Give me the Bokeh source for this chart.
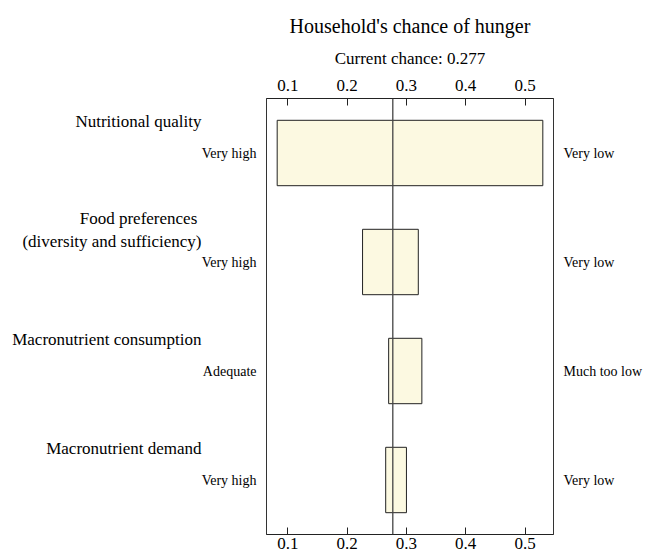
from bokeh.plotting import figure
from bokeh.models import (ColumnDataSource, Range1d, LinearAxis, FixedTicker,
                          Span, Title)
from bokeh.embed import file_html
from bokeh.resources import INLINE

# ---- data ----
factors = ["Nutritional quality",
           "Food preferences \n(diversity and sufficiency)",
           "Macronutrient consumption",
           "Macronutrient demand"]
low_values = [0.082, 0.226, 0.270, 0.265]
high_values = [0.530, 0.320, 0.326, 0.300]
left_levels = ["Very high", "Very high", "Adequate", "Very high"]
right_levels = ["Very low", "Very low", "Much too low", "Very low"]
current_chance = 0.277
tick_values = [0.1, 0.2, 0.3, 0.4, 0.5]
title_text = "Household's chance of hunger"
subtitle_text = "Current chance: %.3f" % current_chance

FONT = "Liberation Serif"
n = len(factors)
ypos = [n - i - 0.5 for i in range(n)]
BAR_H = 0.6
top_pos = [y + BAR_H / 2 - 0.01 for y in ypos]

x_start, x_end = 0.064, 0.548
p = figure(width=645, height=551, output_backend="svg", toolbar_location=None,
           x_range=Range1d(x_start, x_end), y_range=Range1d(0, n),
           x_axis_location=None, y_axis_location=None,
           min_border_left=266, min_border_right=91, min_border_top=98,
           min_border_bottom=0)
p.xgrid.visible = False
p.ygrid.visible = False
p.outline_line_color = "#333333"
p.outline_line_width = 1
p.background_fill_color = "white"
p.border_fill_color = "white"


def hidden_axis(ax):
    ax.axis_line_color = None
    ax.major_tick_line_color = None
    ax.minor_tick_line_color = None
    ax.major_tick_in = 0
    ax.major_tick_out = 0
    ax.minor_tick_in = 0
    ax.minor_tick_out = 0
    ax.major_label_text_font = FONT
    ax.major_label_text_color = "black"
    return ax


# ---- x axes (top with subtitle, bottom) ----
for loc, standoff in (("above", 8), ("below", 3)):
    ax = LinearAxis(ticker=FixedTicker(ticks=tick_values))
    ax.major_tick_in = 7
    ax.major_tick_out = 0
    ax.minor_tick_line_color = None
    ax.minor_tick_out = 0
    ax.major_label_standoff = standoff
    ax.major_label_text_font = FONT
    ax.major_label_text_font_size = "17px"
    ax.major_label_text_color = "black"
    ax.axis_line_color = "#222222"
    ax.major_tick_line_color = "#222222"
    if loc == "above":
        ax.axis_label = subtitle_text
        ax.axis_label_text_font = FONT
        ax.axis_label_text_font_size = "17px"
        ax.axis_label_text_font_style = "normal"
        ax.axis_label_text_color = "black"
        ax.axis_label_standoff = 9
    p.add_layout(ax, loc)

p.add_layout(Title(text=title_text, align="center", text_font=FONT,
                   text_font_size="20px", text_font_style="normal",
                   text_color="black", standoff=17), "above")

# ---- left level labels (nearest the frame) ----
lev = hidden_axis(LinearAxis(ticker=FixedTicker(ticks=ypos)))
lev.major_label_overrides = {y: t for y, t in zip(ypos, left_levels)}
lev.major_label_text_font_size = "14px"
lev.major_label_standoff = 10
p.add_layout(lev, "left")

# ---- left factor labels ----
fac = hidden_axis(LinearAxis(ticker=FixedTicker(ticks=top_pos)))
fac.major_label_overrides = {y: t for y, t in zip(top_pos, factors)}
fac.major_label_text_font_size = "17px"
fac.major_label_standoff = -3
p.add_layout(fac, "left")

# ---- right level labels ----
rlev = hidden_axis(LinearAxis(ticker=FixedTicker(ticks=ypos)))
rlev.major_label_overrides = {y: t for y, t in zip(ypos, right_levels)}
rlev.major_label_text_font_size = "14px"
rlev.major_label_standoff = 10
p.add_layout(rlev, "right")

# ---- bars and current value ----
src = ColumnDataSource(dict(y=ypos, left=low_values, right=high_values))
p.hbar(y="y", left="left", right="right", height=BAR_H, source=src,
       fill_color="#FCF9E1", line_color="#222222", line_width=1)

p.add_layout(Span(location=current_chance, dimension="height",
                  line_color="#444444", line_width=1.3))

open("out.html", "w").write(file_html(p, INLINE))
